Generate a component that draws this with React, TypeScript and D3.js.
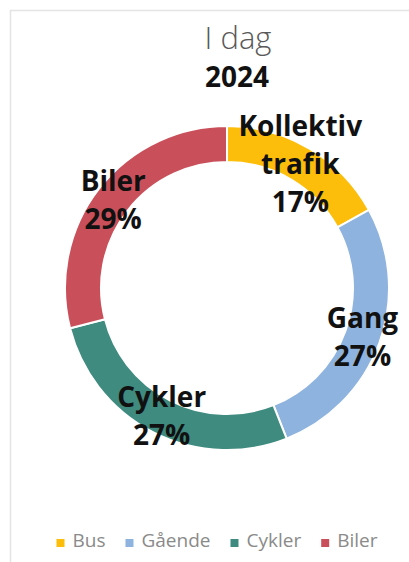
import React, { useEffect, useRef } from "react";
import * as d3 from "d3";

const categories = ["Bus", "Gående", "Cykler", "Biler"];
const values = [17, 27, 27, 29];
const sliceLabels = [["Kollektiv", "trafik", "17%"], ["Gang", "27%"], ["Cykler", "27%"], ["Biler", "29%"]];
const colors = ["#FCBD0B", "#8EB3DE", "#3F8B7F", "#C9505A"];
const titleLine1 = "I dag";
const titleLine2 = "2024";

const W = 409;
const H = 562;
const FONT = "'Open Sans', 'DejaVu Sans', sans-serif";

export default function App() {
  const ref = useRef<SVGSVGElement | null>(null);

  useEffect(() => {
    const svg = d3.select(ref.current);
    svg.selectAll("*").remove();

    svg.append("rect").attr("width", W).attr("height", H).attr("fill", "#ffffff");
    svg.append("rect")
      .attr("x", 10.5).attr("y", 10.5).attr("width", 440).attr("height", 600)
      .attr("fill", "none").attr("stroke", "#e4e4e4").attr("stroke-width", 1.5);

    // Title
    svg.append("text").attr("x", 238).attr("y", 49).attr("text-anchor", "middle")
      .attr("font-family", FONT).attr("font-weight", 300).attr("font-size", 31)
      .attr("fill", "#595959").text(titleLine1);
    svg.append("text").attr("x", 237).attr("y", 87).attr("text-anchor", "middle")
      .attr("font-family", FONT).attr("font-weight", 700).attr("font-size", 28)
      .attr("fill", "#111111").text(titleLine2);

    // Donut
    const cx = 227, cy = 288;
    const outerR = 162, innerR = 126;
    const pie = d3.pie<number>().sort(null).value((d) => d)(values);
    const arc = d3.arc<d3.PieArcDatum<number>>().innerRadius(innerR).outerRadius(outerR);
    const g = svg.append("g").attr("transform", `translate(${cx},${cy})`);
    g.selectAll("path.slice").data(pie).join("path")
      .attr("class", "slice")
      .attr("d", arc as any)
      .attr("fill", (_d, i) => colors[i])
      .attr("stroke", "#ffffff").attr("stroke-width", 2);

    const lineH = 38;
    const fs = 28;
    pie.forEach((p, i) => {
      const [lx, ly] = arc.centroid(p);
      const lines = sliceLabels[i];
      const n = lines.length;
      const t = g.append("text").attr("text-anchor", "middle")
        .attr("font-family", FONT).attr("font-weight", 700).attr("font-size", fs)
        .attr("fill", "#111111");
      lines.forEach((ln, j) => {
        t.append("tspan").attr("x", lx)
          .attr("y", ly + (j - (n - 1) / 2) * lineH + fs * 0.36)
          .text(ln);
      });
    });

    // Legend
    const legY = 547;
    const sq = 8, gapSq = 8, gapItem = 20;
    const lg = svg.append("g");
    const items = categories.map((c, i) => {
      const it = lg.append("g");
      it.append("rect").attr("width", sq).attr("height", sq).attr("y", legY - 8).attr("fill", colors[i]);
      const tx = it.append("text").attr("x", sq + gapSq).attr("y", legY)
        .attr("font-family", FONT).attr("font-size", 19).attr("fill", "#8a8a8a").text(c);
      const w = (tx.node() as SVGTextElement).getComputedTextLength();
      return { it, w: sq + gapSq + w };
    });
    const total = d3.sum(items, (d) => d.w) + gapItem * (items.length - 1);
    let x = 217 - total / 2;
    items.forEach((d) => {
      d.it.attr("transform", `translate(${x},0)`);
      x += d.w + gapItem;
    });
  }, []);

  return (
    <svg ref={ref} width={W} height={H} style={{ position: "absolute", left: 0, top: 0, display: "block" }} />
  );
}
